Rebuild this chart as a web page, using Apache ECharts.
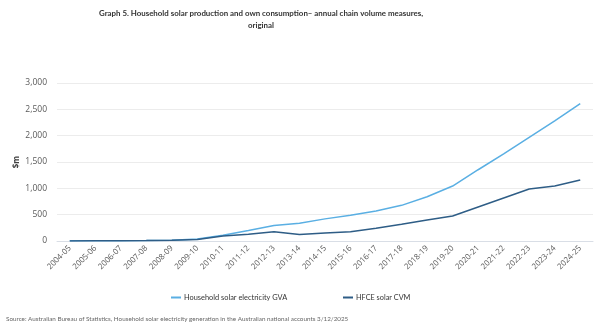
<!DOCTYPE html>
<html>
<head>
<meta charset="utf-8">
<script src="https://cdn.jsdelivr.net/npm/echarts@6/dist/echarts.min.js"></script>
<style>
  html, body { margin: 0; padding: 0; background: #ffffff; }
  #chart { width: 600px; height: 333px; }
</style>
</head>
<body>
<div id="chart"></div>
<script>
// Financial years
const years = [
  '2004-05', '2005-06', '2006-07', '2007-08', '2008-09', '2009-10', '2010-11',
  '2011-12', '2012-13', '2013-14', '2014-15', '2015-16', '2016-17', '2017-18',
  '2018-19', '2019-20', '2020-21', '2021-22', '2022-23', '2023-24', '2024-25'
];

// Household solar electricity GVA, $m
const gva = [3, 5, 7, 10, 15, 40, 110, 200, 295, 338, 420, 490, 570, 677,
  840, 1044, 1353, 1655, 1968, 2283, 2610];

// HFCE solar CVM, $m
const hfce = [2, 3, 5, 8, 12, 30, 95, 130, 177, 122, 152, 177, 240, 317,
  398, 474, 645, 816, 987, 1044, 1157];

const yTicks = { min: 0, max: 3000, interval: 500 };

const font = '"Open Sans", "Noto Sans", sans-serif';
const narrowFont = 'Lato, "Open Sans", sans-serif';
const lightBlue = '#5aafe3';
const darkBlue = '#2e5d86';

const chart = echarts.init(document.getElementById('chart'));

chart.setOption({
  animation: false,
  textStyle: { fontFamily: font },
  grid: { left: 57, right: 7, top: 83, bottom: 92, containLabel: false },
  graphic: [
    {
      type: 'text', x: 261, y: 7,
      style: {
        text: 'Graph 5. Household solar production and own consumption\u2013 annual chain volume measures,\noriginal',
        fontFamily: narrowFont, fontSize: 7.9, fontWeight: 'bold', fill: '#333333',
        textAlign: 'center', lineHeight: 12.5
      }
    },
    {
      type: 'text', x: 6, y: 316,
      style: {
        text: 'Source: Australian Bureau of Statistics, Household solar electricity generation in the Australian national accounts 3/12/2025',
        fontFamily: narrowFont, fontSize: 6.3, fill: '#666666'
      }
    }
  ],
  legend: [
    {
      data: ['Household solar electricity GVA'],
      left: 171, top: 294, padding: 0, icon: 'rect', itemWidth: 10, itemHeight: 2, itemGap: 0,
      textStyle: { fontFamily: narrowFont, fontSize: 7.4, color: '#333333', padding: [0, 0, 0, -2] }
    },
    {
      data: ['HFCE solar CVM'],
      left: 343, top: 294, padding: 0, icon: 'rect', itemWidth: 10, itemHeight: 2, itemGap: 0,
      textStyle: { fontFamily: narrowFont, fontSize: 7.3, color: '#333333', padding: [0, 0, 0, -2] }
    }
  ],
  xAxis: {
    type: 'category',
    data: years,
    boundaryGap: true,
    axisLine: { show: true, lineStyle: { color: '#d9dee6', width: 1 } },
    axisTick: { show: false },
    axisLabel: {
      rotate: 45, fontSize: 8, color: '#595959', margin: 6, interval: 0, fontFamily: font
    }
  },
  yAxis: {
    type: 'value',
    min: yTicks.min, max: yTicks.max, interval: yTicks.interval,
    name: '$m',
    nameLocation: 'middle',
    nameGap: 36,
    nameMoveOverlap: false,
    nameRotate: 90,
    nameTextStyle: { fontSize: 8, color: '#404040', fontWeight: 'bold', fontFamily: font },
    axisLine: { show: false },
    axisTick: { show: false },
    splitLine: { lineStyle: { color: '#ececec', width: 1 } },
    axisLabel: {
      fontSize: 8.5, color: '#595959', margin: 10, fontFamily: font,
      formatter: v => v.toLocaleString('en-US')
    }
  },
  series: [
    {
      name: 'Household solar electricity GVA',
      type: 'line', data: gva, symbol: 'none',
      lineStyle: { color: lightBlue, width: 1.5 },
      itemStyle: { color: lightBlue }
    },
    {
      name: 'HFCE solar CVM',
      type: 'line', data: hfce, symbol: 'none',
      lineStyle: { color: darkBlue, width: 1.5 },
      itemStyle: { color: darkBlue }
    }
  ]
});
</script>
</body>
</html>
